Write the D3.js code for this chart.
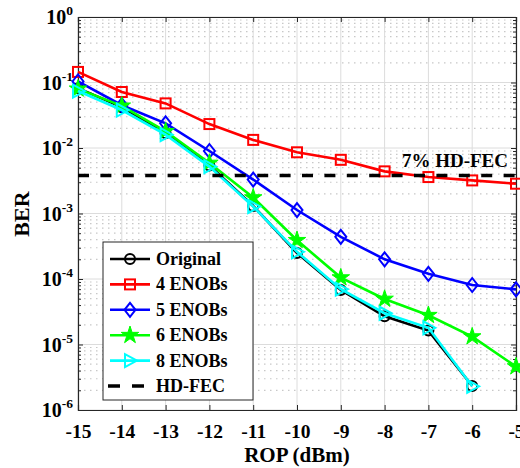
<!DOCTYPE html>
<html><head><meta charset="utf-8">
<script src="https://cdn.jsdelivr.net/npm/d3@7"></script>
<style>body{margin:0;background:#fff}svg{display:block}text{font-family:"Liberation Serif","Times New Roman",serif;font-weight:bold}</style>
</head><body><svg id="c" width="520" height="468"></svg>
<script>
const rop = [-15,-14,-13,-12,-11,-10,-9,-8,-7,-6,-5];
const berOriginal = [0.082,0.042,0.0168,0.0054,0.00130,2.5e-4,6.8e-5,2.7e-5,1.63e-5,2.33e-6];
const ber4 = [0.145,0.0716,0.048,0.0232,0.0133,0.0086,0.0066,0.0044,0.0036,0.0032,0.00285];
const ber5 = [0.104,0.045,0.0238,0.0090,0.0033,0.00113,4.4e-4,2.0e-4,1.2e-4,8.1e-5,6.95e-5];
const ber6 = [0.080,0.044,0.018,0.0059,0.00175,3.9e-4,1.05e-4,4.95e-5,2.8e-5,1.32e-5,4.6e-6];
const ber8 = [0.074,0.038,0.016,0.0052,0.00128,2.6e-4,7.0e-5,3.0e-5,1.8e-5,2.3e-6];
const hdFec = 3.8e-3;
const seriesNames = ["Original","4 ENOBs","5 ENOBs","6 ENOBs","8 ENOBs"];
const xTicks = [-15,-14,-13,-12,-11,-10,-9,-8,-7,-6,-5];
const yDecades = [0,-1,-2,-3,-4,-5,-6];

const svg = d3.select("#c");
const L=78,R=516,T=17,B=410;
const x = d3.scaleLinear().domain([-15,-5]).range([L,R]);
const y = d3.scaleLog().domain([1e-6,1]).range([B,T]);

// minor grid
const minors=[];
for(let e=-6;e<0;e++) for(let m=2;m<=9;m++) minors.push(m*Math.pow(10,e));
svg.append("g").selectAll("line").data(minors).join("line")
  .attr("x1",L).attr("x2",R).attr("y1",d=>y(d)).attr("y2",d=>y(d))
  .attr("stroke","#c8c8c8").attr("stroke-width",1.2).attr("stroke-dasharray","1.5,4.5");
// major grid
svg.append("g").selectAll("line").data(yDecades.map(e=>Math.pow(10,e))).join("line")
  .attr("x1",L).attr("x2",R).attr("y1",d=>y(d)).attr("y2",d=>y(d))
  .attr("stroke","#dcdcdc").attr("stroke-width",1);
svg.append("g").selectAll("line").data(xTicks).join("line")
  .attr("x1",d=>x(d)).attr("x2",d=>x(d)).attr("y1",T).attr("y2",B)
  .attr("stroke","#dcdcdc").attr("stroke-width",1);

// axes
const axc="#262626";
const xa = svg.append("g").attr("transform",`translate(0,${B})`)
  .call(d3.axisBottom(x).tickValues(xTicks).tickSize(-5).tickPadding(14).tickFormat(d=>d));
const xt = svg.append("g").attr("transform",`translate(0,${T})`)
  .call(d3.axisTop(x).tickValues(xTicks).tickSize(-5).tickFormat(""));
const allY = yDecades.map(e=>Math.pow(10,e));
const ya = svg.append("g").attr("transform",`translate(${L},0)`)
  .call(d3.axisLeft(y).tickValues(allY).tickSize(-5).tickPadding(8).tickFormat(""));
const yr = svg.append("g").attr("transform",`translate(${R},0)`)
  .call(d3.axisRight(y).tickValues(allY).tickSize(-5).tickFormat(""));
svg.append("g").attr("transform",`translate(${L},0)`)
  .call(d3.axisLeft(y).tickValues(minors).tickSize(-3).tickFormat("")).select(".domain").remove();
svg.append("g").attr("transform",`translate(${R},0)`)
  .call(d3.axisRight(y).tickValues(minors).tickSize(-3).tickFormat("")).select(".domain").remove();
svg.selectAll(".domain").attr("stroke",axc).attr("stroke-width",1.2);
svg.selectAll(".tick line").attr("stroke",axc).attr("stroke-width",1);
xa.selectAll("text").attr("font-size",19.5).attr("fill","#000")
  .attr("font-family","Liberation Serif").attr("font-weight","bold");
// y tick labels with superscripts
const yl = svg.append("g");
yDecades.forEach(e=>{
  const t = yl.append("text").attr("x",L-5).attr("y",y(Math.pow(10,e))+7)
    .attr("text-anchor","end").attr("font-size",20).attr("fill","#000");
  t.append("tspan").text("10");
  t.append("tspan").attr("dy",-9).attr("font-size",13.5).text(e);
});

// series
const data = [
  {v:berOriginal,c:"#000000",m:"circle"},
  {v:ber4,c:"#ff0000",m:"square"},
  {v:ber5,c:"#0000ff",m:"diamond"},
  {v:ber6,c:"#00ff00",m:"star"},
  {v:ber8,c:"#00ffff",m:"tri"}
];
function marker(g,m,c,cx,cy){
  if(m==="circle") g.append("circle").attr("cx",cx).attr("cy",cy).attr("r",5).attr("fill","none").attr("stroke",c).attr("stroke-width",2);
  else if(m==="square") g.append("rect").attr("x",cx-5).attr("y",cy-5).attr("width",10).attr("height",10).attr("fill","none").attr("stroke",c).attr("stroke-width",2);
  else if(m==="diamond") g.append("path").attr("d",`M${cx},${cy-7}L${cx+5.5},${cy}L${cx},${cy+7}L${cx-5.5},${cy}Z`).attr("fill","none").attr("stroke",c).attr("stroke-width",2);
  else if(m==="star") g.append("path").attr("transform",`translate(${cx},${cy})`).attr("d",d3.symbol(d3.symbolStar,95)()).attr("fill",c).attr("stroke",c).attr("stroke-width",1);
  else g.append("path").attr("d",`M${cx+7},${cy}L${cx-5},${cy-6.5}L${cx-5},${cy+6.5}Z`).attr("fill","none").attr("stroke",c).attr("stroke-width",2);
}
const line = d3.line().x((d,i)=>x(rop[i])).y(d=>y(d));
const sg = svg.append("g");
data.forEach(s=>{
  sg.append("path").attr("d",line(s.v)).attr("fill","none").attr("stroke",s.c).attr("stroke-width",2.6);
  s.v.forEach((d,i)=>marker(sg,s.m,s.c,x(rop[i]),y(d)));
});
// HD-FEC
svg.append("line").attr("x1",L).attr("x2",R).attr("y1",y(hdFec)).attr("y2",y(hdFec))
  .attr("stroke","#000").attr("stroke-width",3.5).attr("stroke-dasharray","11,11.4");
svg.append("text").attr("x",508).attr("y",y(hdFec)-9).attr("text-anchor","end")
  .attr("font-size",19).attr("fill","#000").text("7% HD-FEC");

// labels
svg.append("text").attr("x",297).attr("y",462).attr("text-anchor","middle").attr("font-size",21).attr("fill","#000").text("ROP (dBm)");
svg.append("text").attr("transform","translate(29,214) rotate(-90)").attr("text-anchor","middle").attr("font-size",22).attr("fill","#000").text("BER");

// legend
const lg = svg.append("g");
lg.append("rect").attr("x",103).attr("y",242).attr("width",150).attr("height",158).attr("fill","#fff").attr("stroke","#262626").attr("stroke-width",1);
const names = seriesNames.concat(["HD-FEC"]);
names.forEach((n,i)=>{
  const yy = 259 + i*25.4;
  if(i<5){
    lg.append("line").attr("x1",110).attr("x2",150).attr("y1",yy).attr("y2",yy).attr("stroke",data[i].c).attr("stroke-width",2.6);
    marker(lg,data[i].m,data[i].c,130,yy);
  } else {
    lg.append("line").attr("x1",108).attr("x2",144).attr("y1",yy).attr("y2",yy).attr("stroke","#000").attr("stroke-width",3.5).attr("stroke-dasharray","12,12");
  }
  lg.append("text").attr("x",156).attr("y",yy+6).attr("font-size",18).attr("fill","#000").text(n);
});
</script></body></html>
